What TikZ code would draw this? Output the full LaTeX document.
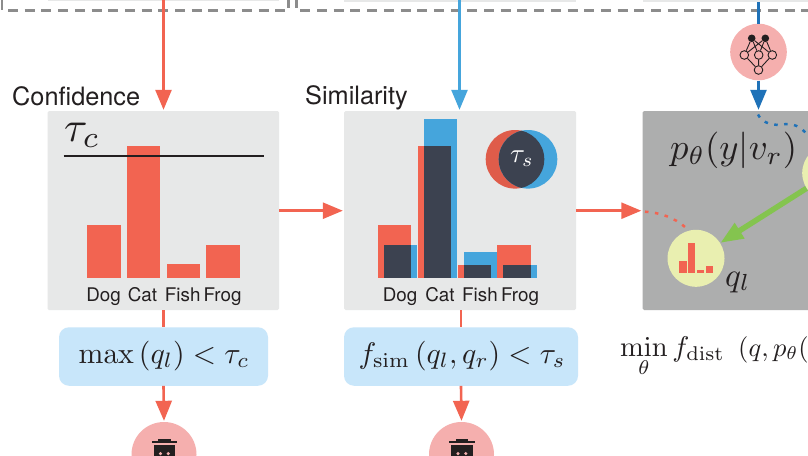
\documentclass[tikz,border=0pt]{standalone}
\usepackage[no-math]{fontspec}
\usepackage{graphicx}
\usepackage{amsmath}
\newfontfamily\helv{TeX Gyre Heros}
\usetikzlibrary{arrows.meta,calc}
\definecolor{panelL}{HTML}{E7E8E8}
\definecolor{panelD}{HTML}{ADAEAE}
\definecolor{cred}{HTML}{F26451}
\definecolor{cblue}{HTML}{45A5DC}
\definecolor{cdblue}{HTML}{1F72B8}
\definecolor{cdark}{HTML}{3C4250}
\definecolor{cpink}{HTML}{F5AFAE}
\definecolor{cbox}{HTML}{C8E6FA}
\definecolor{cyell}{HTML}{E9EFB0}
\definecolor{cgreen}{HTML}{84C44F}
\definecolor{cgray}{HTML}{8C8C8C}
\definecolor{cink}{HTML}{231F20}
\tikzset{
  panel/.style={draw=none,rounded corners=1.5pt,inner sep=0pt,minimum width=#1,minimum height=199pt},
  condbox/.style={fill=cbox,rounded corners=10pt,inner sep=0pt,minimum height=58.5pt,minimum width=#1},
  head/.style={font=\helv\fontsize{25.3}{27}\selectfont,text=cink,inner sep=0pt,anchor=base west},
  cls/.style={font=\helv\fontsize{18.8}{20}\selectfont,text=cink,inner sep=0pt,anchor=base},
  mth/.style={inner sep=0pt,anchor=base west,text=cink},
  conn/.style={line width=2.6pt,draw=#1,-{Triangle[length=20pt,width=16pt,fill=#1]},shorten >=1pt},
  plain/.style={line width=2.6pt,draw=#1},
  disc/.style={circle,fill=#1,inner sep=0pt,minimum size=65pt},
  dashbox/.style={line width=2.6pt,draw=cgray,dash pattern=on 10pt off 6.7pt},
  dots/.style={line width=2.5pt,draw=#1,dash pattern=on 3.5pt off 6.5pt},
  nnline/.style={line width=.9pt,draw=cink},
  nnfull/.style={circle,fill=cink,inner sep=0pt,minimum size=7.6pt},
  nnhollow/.style={circle,fill=cpink,draw=cink,line width=.9pt,inner sep=0pt,minimum size=8.6pt},
}
\newcommand{\barbox}[4]{\fill[#4] (#1,278.3) rectangle (#2,#3);}
\newcommand{\trashicon}[1]{%
  \begin{scope}[xshift=#1pt]
    \fill[cink] (151.7,440.8) rectangle (177,443.2);
    \fill[cink] (158,438.8) rectangle (170.5,441);
    \fill[cink] (153.7,444.6) rectangle (175,456);
    \fill[cpink] (160.5,453.6) circle (1.7);
    \fill[cpink] (168.3,453.6) circle (1.7);
  \end{scope}}
\begin{document}
\begin{tikzpicture}[x=1pt,y=-1pt]
\useasboundingbox (0,0) rectangle (808,455);
\clip (0,0) rectangle (808,455);
\fill[white] (0,0) rectangle (808,455);

% strips of the boxes above
\fill[panelL] (48,-2) rectangle (279,1);
\fill[panelL] (344,-2) rectangle (576,2);
\fill[panelL] (642.5,-2) rectangle (808,2);

% dashed frames
\draw[dashbox] (2,0) -- (2,10.7) -- (288.7,10.7) -- (288.7,-2);
\draw[dashbox] (296.3,-2) -- (296.3,10.7) -- (810,10.7);

% free ends
\coordinate (topA) at (163.5,0);
\coordinate (topB) at (459.5,0);
\coordinate (topC) at (758.5,2);

% panels
\node[panel=231.5pt,fill=panelL] (p1) at (163.25,210.5) {};
\node[panel=232pt,fill=panelL] (p2) at (460,210.5) {};
\node[panel=220pt,fill=panelD] (p3) at (752.5,210.5) {};

% conditions
\node[condbox=209pt] (b1) at (163.5,356.5) {};
\node[condbox=234pt] (b2) at (461,356.5) {};

% bin discs
\node[disc=cpink] (t1) at (164,454.5) {};
\node[disc=cpink] (t2) at (461.5,454.5) {};
\trashicon{0}
\trashicon{297.5}

% network disc
\node[circle,fill=cpink,inner sep=0pt,minimum size=56.6pt] (net) at (758.5,52) {};
\node[nnfull] (n1) at (751.7,38.3) {};
\node[nnfull] (n2) at (765.3,38.3) {};
\node[nnhollow] (n3) at (744.3,55) {};
\node[nnhollow] (n4) at (758.7,55) {};
\node[nnhollow] (n5) at (772.3,55) {};
\node[nnhollow] (n6) at (758.5,70) {};
\foreach \a in {n1,n2}{\foreach \b in {n3,n4,n5}{\draw[nnline] (\a) -- (\b);}}
\foreach \b in {n3,n4,n5}{\draw[nnline] (\b) -- (n6);}

% titles
\node[head] (confT) at (12,105) {Confidence};
\node[head] (simT) at (305,104.5) {Similarity};

% connectors
\draw[conn=cred] (topA) -- (topA |- p1.north);
\draw[conn=cblue] (topB) -- (topB |- p2.north);
\draw[plain=cdblue] (topC) -- (net.north);
\draw[conn=cdblue] (net.south) -- (net.south |- p3.north);
\draw[plain=cred] (b1.north |- p1.south) -- (b1.north);
\draw[conn=cred] (b1.south) -- (t1.north);
\draw[plain=cred] (b2.north |- p2.south) -- (b2.north);
\draw[conn=cred] (b2.south) -- (t2.north);
\draw[conn=cred] (p1.east |- 0,210.7) -- (p2.west |- 0,210.7);
\draw[conn=cred] (p2.east |- 0,210.7) -- (p3.west |- 0,210.7);

% panel 1
\barbox{87}{120.7}{225}{cred}
\barbox{127}{160}{145.7}{cred}
\barbox{166.7}{200.3}{264.3}{cred}
\barbox{206.3}{239.7}{244.7}{cred}
\draw[line width=1.8pt,draw=cink] (63.5,155.8) -- (264,155.8);
\node[mth] (tc) at (64,141.5) {\resizebox{36pt}{!}{$\tau_c$}};
\node[cls] (l1a) at (103.5,301.7) {Dog};
\node[cls] (l1b) at (142.5,301.7) {Cat};
\node[cls] (l1c) at (182.7,301.7) {Fish};
\node[cls] (l1d) at (222.5,301.7) {Frog};

% panel 2
\barbox{378}{411.3}{225}{cred}
\barbox{418}{451.3}{145.7}{cred}
\barbox{457.7}{490.7}{265}{cred}
\barbox{497.3}{530.7}{245}{cred}
\barbox{384}{417}{245}{cblue}
\barbox{423.7}{457}{119}{cblue}
\barbox{463.7}{496.7}{251.7}{cblue}
\barbox{503}{536.7}{265}{cblue}
\barbox{384}{411.3}{245}{cdark}
\barbox{423.7}{451.3}{145.7}{cdark}
\barbox{463.7}{490.7}{265}{cdark}
\barbox{503}{530.7}{265}{cdark}
\node[cls] (l2a) at (400,301.7) {Dog};
\node[cls] (l2b) at (440,301.7) {Cat};
\node[cls] (l2c) at (480,301.7) {Fish};
\node[cls] (l2d) at (520,301.7) {Frog};

% venn
\fill[cred!92!black] (515,159.3) circle (29.3);
\fill[cblue] (528,159.3) circle (29.3);
\begin{scope}
  \clip (515,159.3) circle (29.3);
  \fill[cdark] (528,159.3) circle (29.3);
\end{scope}
\node[mth,text=white] (ts) at (510,162) {\resizebox{23.5pt}{!}{$\tau_s$}};

% condition texts
\node[mth] (m1) at (78.3,363.5) {\resizebox{171pt}{!}{$\max\left(q_l\right)<\tau_c$}};
\node[mth] (m2) at (358.3,363.5) {\resizebox{207pt}{!}{$f_{\mathrm{sim}}\left(q_l,q_r\right)<\tau_s$}};

% panel 3
\node[mth] (pt) at (670,159.5) {\resizebox{127pt}{!}{$p_\theta(y|v_r)$}};
\draw[dots=cdblue] (758,114.5) .. controls (762,124) and (776,126.5) .. (786,124) .. controls (793,123) and (800,127) .. (806,133);
\draw[dots=cred] (645,211.7) .. controls (660,212.5) and (675,218) .. (685,227);
\node[circle,fill=cyell,inner sep=0pt,minimum size=57pt] (ql) at (696,258.3) {};
\node[circle,fill=cyell,inner sep=0pt,minimum size=57pt] (qr) at (830.7,173) {};
\draw[line width=5.5pt,draw=cgreen,-{Triangle[length=23pt,width=17pt,fill=cgreen]}] (qr) -- (ql);
\fill[cred] (679,272.7) rectangle (686.7,261);
\fill[cred] (688.3,272.7) rectangle (695.3,243.3);
\fill[cred] (697,272.7) rectangle (704,270);
\fill[cred] (705.7,272.7) rectangle (713.3,265.7);
\node[mth] (qlt) at (725,286) {\resizebox{25pt}{!}{$q_l$}};

% objective
\node[mth] (obj) at (620,356) {\scalebox{2.85}{$\displaystyle\min_\theta f_{\mathrm{dist}}$}};
\node[mth] (objb) at (738,356) {\scalebox{2.65}{$(q,p_\theta($}};
\end{tikzpicture}
\end{document}
